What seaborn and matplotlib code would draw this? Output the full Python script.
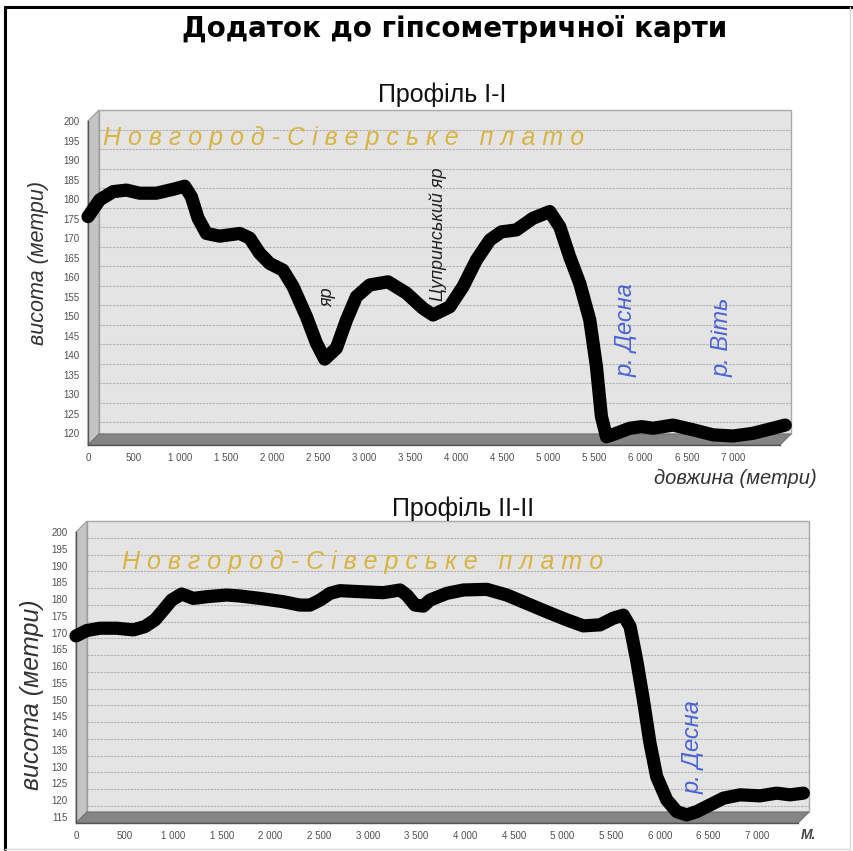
import matplotlib
matplotlib.use("Agg")
import matplotlib.pyplot as plt
import seaborn as sns
import pandas as pd
from matplotlib.patches import Polygon, Rectangle

# Profile I-I (distance m, elevation m)
dist_1 = [0, 127, 272, 417, 561, 742, 923, 1050, 1122, 1195, 1285, 1430, 1647, 1756,
          1864, 1973, 2117, 2226, 2371, 2480, 2570, 2697, 2806, 2914, 3059, 3258, 3457,
          3637, 3746, 3927, 4072, 4217, 4362, 4488, 4651, 4832, 5013, 5122, 5230, 5339,
          5448, 5520, 5574, 5629, 5737, 5882, 6009, 6135, 6352, 6569, 6786, 7003, 7220,
          7437, 7570]
elev_1 = [175.5, 179.8, 181.9, 182.3, 181.5, 181.5, 182.5, 183.3, 180.6, 175.1, 171.2,
          170.5, 171.2, 170.0, 166.1, 163.5, 161.8, 157.6, 149.9, 143.1, 139.0, 141.8,
          149.0, 155.0, 158.0, 158.8, 155.9, 152.0, 150.3, 152.4, 157.6, 164.4, 169.5,
          171.6, 172.1, 175.1, 176.8, 172.9, 165.2, 158.4, 149.0, 137.1, 124.3, 119.1,
          120.0, 121.3, 121.7, 121.3, 122.1, 120.9, 119.6, 119.3, 120.0, 121.3, 122.1]

# Profile II-II
dist_2 = [0, 110, 247, 418, 589, 709, 812, 897, 983, 1086, 1206, 1343, 1549, 1686, 1891,
          2131, 2302, 2405, 2508, 2610, 2713, 2919, 3158, 3330, 3399, 3484, 3570, 3638,
          3810, 3981, 4221, 4427, 4632, 4838, 5043, 5214, 5385, 5522, 5625, 5694, 5762,
          5831, 5899, 5968, 6071, 6174, 6276, 6379, 6516, 6653, 6824, 7030, 7201, 7338,
          7475]
elev_2 = [169.0, 170.6, 171.3, 171.3, 170.8, 171.8, 173.8, 176.7, 179.7, 181.5, 180.2,
          180.7, 181.2, 180.9, 180.2, 179.2, 178.2, 178.2, 179.7, 181.7, 182.5, 182.2,
          181.9, 182.7, 181.2, 178.2, 177.9, 179.7, 181.7, 182.7, 182.9, 181.2, 178.7,
          176.2, 173.8, 172.0, 172.3, 174.3, 175.2, 171.8, 161.8, 149.9, 137.0, 127.0,
          120.1, 116.6, 115.6, 116.6, 118.6, 120.6, 121.6, 121.3, 122.1, 121.6, 122.1]

x_ticks = [0, 500, 1000, 1500, 2000, 2500, 3000, 3500, 4000, 4500, 5000, 5500, 6000, 6500, 7000]
x_tick_labels = ["0", "500", "1 000", "1 500", "2 000", "2 500", "3 000", "3 500",
                 "4 000", "4 500", "5 000", "5 500", "6 000", "6 500", "7 000"]
y_ticks_1 = list(range(120, 201, 5))
y_ticks_2 = list(range(115, 201, 5))

sns.set_style("white")
plt.rcParams['font.family'] = ['Liberation Sans', 'DejaVu Sans']

fig = plt.figure(figsize=(8.54, 8.51), dpi=100)
W, H = 854, 851

GOLD = "#d8b445"
BLUE = "#4a63d6"
PLATEAU = "Н о в г о р о д - С і в е р с ь к е   п л а т о"


def px_axes(left, right, top, bottom):
    return fig.add_axes([left / W, 1 - bottom / H, (right - left) / W, (bottom - top) / H])


def draw_box(ax, xmax, ymin, ymax, yticks, dx_px=11, dy_px=11):
    # pseudo 3D walls: offsets in data units
    bbox = ax.get_position()
    dx = dx_px * xmax / (bbox.width * W)
    dy = dy_px * (ymax - ymin) / (bbox.height * H)
    ax.add_patch(Rectangle((dx, ymin + dy), xmax, ymax - ymin, facecolor="#e4e4e4",
                           edgecolor="#a8a8a8", lw=1, clip_on=False, zorder=0))
    for yv in yticks:
        if ymin < yv <= ymax:
            ax.plot([dx, xmax + dx], [yv + dy, yv + dy], color="#b0b0b0", lw=0.8,
                    ls=(0, (2, 1)), clip_on=False, zorder=0.5)
    ax.add_patch(Polygon([(0, ymin), (dx, ymin + dy), (dx, ymax + dy), (0, ymax)],
                         closed=True, facecolor="#c4c4c4", edgecolor="#9a9a9a", lw=0.8,
                         clip_on=False, zorder=0.6))
    ax.add_patch(Polygon([(0, ymin), (xmax, ymin), (xmax + dx, ymin + dy), (dx, ymin + dy)],
                         closed=True, facecolor="#858585", edgecolor="#6f6f6f", lw=0.8,
                         clip_on=False, zorder=0.6))


def style_axes(ax, xmax, ymin, ymax, yticks):
    ax.set_xlim(0, xmax)
    ax.set_ylim(ymin, ymax)
    ax.set_facecolor("none")
    for s in ["top", "right"]:
        ax.spines[s].set_visible(False)
    for s in ["left", "bottom"]:
        ax.spines[s].set_color("#555555")
        ax.spines[s].set_linewidth(1.0)
    ax.set_xticks(x_ticks)
    ax.set_xticklabels(x_tick_labels)
    ax.set_yticks(yticks)
    ax.tick_params(axis="both", direction="out", length=4, width=0.8, color="#555555",
                   labelsize=7, labelcolor="#505050", pad=2)


def draw_profile(ax, dist, elev):
    df = pd.DataFrame({"dist": dist, "elev": elev})
    sns.lineplot(data=df, x="dist", y="elev", ax=ax, color="black", linewidth=9.5,
                 solid_capstyle="round", solid_joinstyle="round", zorder=3)
    ax.lines[-1].set_clip_on(False)
    ax.set_xlabel("")
    ax.set_ylabel("")


# ---------- Profile I-I ----------
ax1 = px_axes(88, 780, 121, 445)
xmax1, ymin1, ymax1 = 7513, 117.0, 200
style_axes(ax1, xmax1, ymin1, ymax1, y_ticks_1)
draw_box(ax1, xmax1, ymin1, ymax1, y_ticks_1)
draw_profile(ax1, dist_1, elev_1)

ax1.text(160, 195.6, PLATEAU, color=GOLD, fontsize=18, style="italic",
         ha="left", va="center", zorder=4)
ax1.text(2603, 154.9, "яр", rotation=90, fontsize=13, style="italic", color="#222222",
         ha="center", va="center", zorder=4)
ax1.text(3797, 171.1, "Цупринський яр", rotation=90, fontsize=13, style="italic",
         color="#222222", ha="center", va="center", zorder=4)
ax1.text(5847, 146.5, "р. Десна", rotation=90, fontsize=17, style="italic", color=BLUE,
         ha="center", va="center", zorder=4)
ax1.text(6879, 144.7, "р. Віть", rotation=90, fontsize=17, style="italic", color=BLUE,
         ha="center", va="center", zorder=4)

fig.text(39 / W, 1 - 263 / H, "висота (метри)", rotation=90, fontsize=15.5,
         style="italic", color="#333333", ha="center", va="center")
fig.text(817 / W, 1 - 478 / H, "довжина (метри)", fontsize=14.5, style="italic",
         color="#333333", ha="right", va="center")

# ---------- Profile II-II ----------
ax2 = px_axes(76, 798, 532, 823)
xmax2, ymin2, ymax2 = 7420, 113.2, 200
style_axes(ax2, xmax2, ymin2, ymax2, y_ticks_2)
draw_box(ax2, xmax2, ymin2, ymax2, y_ticks_2)
draw_profile(ax2, dist_2, elev_2)

ax2.text(473, 191.0, PLATEAU, color=GOLD, fontsize=18, style="italic",
         ha="left", va="center", zorder=4)
ax2.text(6341, 135.9, "р. Десна", rotation=90, fontsize=17, style="italic", color=BLUE,
         ha="center", va="center", zorder=4)

fig.text(32 / W, 1 - 695 / H, "висота (метри)", rotation=90, fontsize=18,
         style="italic", color="#333333", ha="center", va="center")
fig.text(808 / W, 1 - 835 / H, "М.", fontsize=10, style="italic", fontweight="bold",
         color="#444444", ha="center", va="center")

# ---------- titles ----------
fig.text(455 / W, 1 - 37 / H, "Додаток до гіпсометричної карти", fontsize=20,
         fontweight="bold", family=['DejaVu Sans'], color="black", ha="center",
         va="baseline")
fig.text(442 / W, 1 - 101.7 / H, "Профіль І-І", fontsize=18,
         color="#111111", ha="center", va="baseline")
fig.text(463 / W, 1 - 516 / H, "Профіль ІІ-ІІ", fontsize=18,
         color="#111111", ha="center", va="baseline")

# page frame: heavy top/left, faint right/bottom
fig.add_artist(plt.Line2D([5 / W, 5 / W], [0.002, 1 - 7 / H], color="black", lw=2.2))
fig.add_artist(plt.Line2D([5 / W, 1.0], [1 - 7 / H, 1 - 7 / H], color="black", lw=2.2))
fig.add_artist(plt.Line2D([850 / W, 850 / W], [0.002, 1 - 7 / H], color="#d8d8d8", lw=1))
fig.add_artist(plt.Line2D([5 / W, 850 / W], [1 - 849 / H, 1 - 849 / H], color="#d8d8d8", lw=1))

fig.savefig("out.png", dpi=100)
